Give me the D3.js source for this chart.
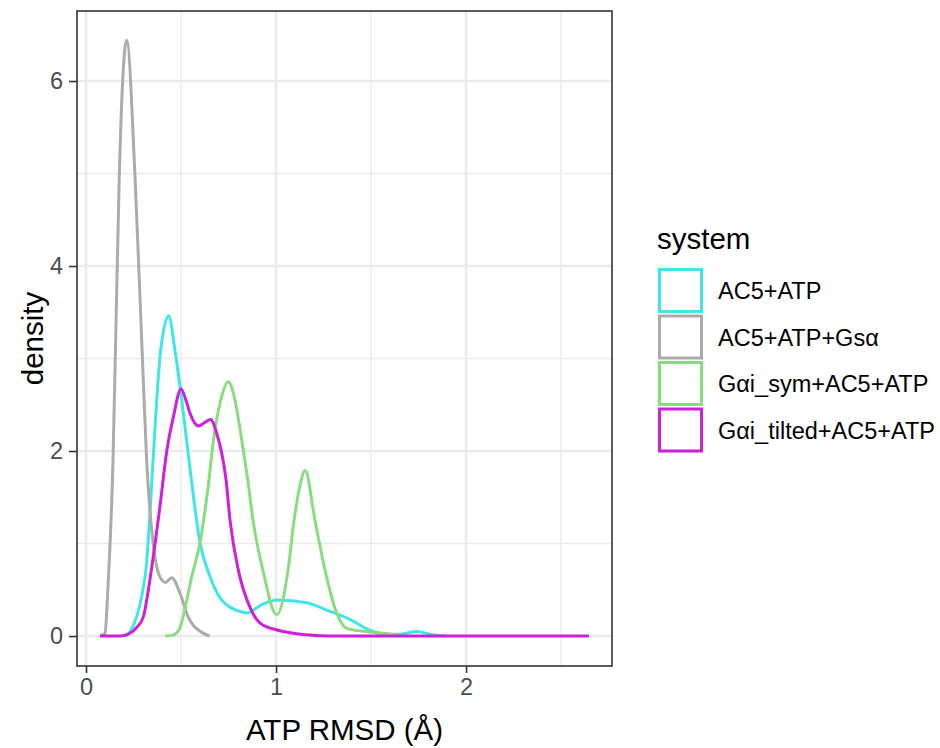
<!DOCTYPE html>
<html>
<head>
<meta charset="utf-8">
<script src="https://cdn.jsdelivr.net/npm/d3@7"></script>
<style>
body { margin: 0; background: #fff; }
text { font-family: "Liberation Sans", Arial, sans-serif; }
</style>
</head>
<body>
<div id="chart-area"></div>
<script>
const systems = ["AC5+ATP", "AC5+ATP+Gsα", "Gαi_sym+AC5+ATP", "Gαi_tilted+AC5+ATP"]
const colours = ["#3fe5ec", "#ababab", "#88dd7f", "#cf1fdc"]

// density curves (rmsd in Å, density)
const ac5Rmsd = [0.205, 0.221, 0.311, 0.353, 0.372, 0.393, 0.435, 0.468, 0.504, 0.542, 0.60, 0.653, 0.714, 0.819, 0.846, 0.925, 1.004, 1.162, 1.267, 1.398, 1.495, 1.574, 1.653, 1.741, 1.81, 1.89]
const ac5Dens = [0, 0.02, 0.64, 1.90, 2.55, 3.09, 3.46, 3.09, 2.55, 1.90, 1.01, 0.64, 0.39, 0.26, 0.25, 0.34, 0.39, 0.36, 0.28, 0.17, 0.06, 0.02, 0.02, 0.05, 0.02, 0]

const gsRmsd = [0.074, 0.10, 0.114, 0.142, 0.156, 0.175, 0.214, 0.258, 0.293, 0.319, 0.353, 0.389, 0.419, 0.451, 0.495, 0.537, 0.609, 0.65]
const gsDens = [0, 0.03, 0.46, 1.90, 3.20, 4.96, 6.44, 4.96, 3.20, 1.90, 1.01, 0.64, 0.58, 0.63, 0.46, 0.21, 0.04, 0]

const symRmsd = [0.416, 0.458, 0.49, 0.511, 0.556, 0.60, 0.642, 0.671, 0.709, 0.749, 0.784, 0.814, 0.851, 0.879, 0.932, 1.003, 1.063, 1.095, 1.124, 1.153, 1.205, 1.258, 1.319, 1.374, 1.511, 1.60, 1.653]
const symDens = [0, 0.01, 0.07, 0.21, 0.64, 1.01, 1.60, 2.12, 2.55, 2.75, 2.55, 2.19, 1.69, 1.25, 0.70, 0.23, 0.71, 1.25, 1.61, 1.79, 1.25, 0.71, 0.25, 0.08, 0.04, 0.02, 0]

const tiltRmsd = [0.074, 0.179, 0.223, 0.27, 0.302, 0.34, 0.389, 0.425, 0.46, 0.50, 0.526, 0.547, 0.591, 0.626, 0.656, 0.688, 0.714, 0.737, 0.758, 0.802, 0.863, 0.916, 1.005, 1.09, 1.18, 1.284, 2.647]
const tiltDens = [0, 0, 0.02, 0.10, 0.21, 0.66, 1.40, 2.0, 2.37, 2.67, 2.55, 2.41, 2.27, 2.31, 2.34, 2.19, 1.98, 1.69, 1.25, 0.71, 0.31, 0.14, 0.065, 0.03, 0.01, 0, 0]

const xTicks = [0, 1, 2]
const xMinor = [0.5, 1.5, 2.5]
const yTicks = [0, 2, 4, 6]
const yMinor = [1, 3, 5]

const rmsdSeries = [ac5Rmsd, gsRmsd, symRmsd, tiltRmsd]
const densSeries = [ac5Dens, gsDens, symDens, tiltDens]

var margin = {"left": 77, "top": 11}
const GRAPH_WIDTH = 535
const GRAPH_HEIGHT = 655

var svg = d3.select('#chart-area').append("svg")
    .attr("width", 940)
    .attr("height", 748)

var g = svg.append("g")
    .attr("transform", "translate(" + margin.left + "," + margin.top + ")")

var xScale = d3.scaleLinear()
    .domain([-0.0474, 2.768])
    .range([0, GRAPH_WIDTH])

var yScale = d3.scaleLinear()
    .domain([-0.324, 6.757])
    .range([GRAPH_HEIGHT, 0])

// grid lines, minor first
g.selectAll(".xminor").data(xMinor).enter().append("line")
    .attr("x1", d => xScale(d)).attr("x2", d => xScale(d))
    .attr("y1", 0).attr("y2", GRAPH_HEIGHT)
    .attr("stroke", "#ebebeb").attr("stroke-width", 1.4)
g.selectAll(".yminor").data(yMinor).enter().append("line")
    .attr("y1", d => yScale(d)).attr("y2", d => yScale(d))
    .attr("x1", 0).attr("x2", GRAPH_WIDTH)
    .attr("stroke", "#ebebeb").attr("stroke-width", 1.4)
g.selectAll(".xmajor").data(xTicks).enter().append("line")
    .attr("x1", d => xScale(d)).attr("x2", d => xScale(d))
    .attr("y1", 0).attr("y2", GRAPH_HEIGHT)
    .attr("stroke", "#ebebeb").attr("stroke-width", 2.6)
g.selectAll(".ymajor").data(yTicks).enter().append("line")
    .attr("y1", d => yScale(d)).attr("y2", d => yScale(d))
    .attr("x1", 0).attr("x2", GRAPH_WIDTH)
    .attr("stroke", "#ebebeb").attr("stroke-width", 2.6)

var line = d3.line()
    .x(d => xScale(d[0]))
    .y(d => yScale(d[1]))
    .curve(d3.curveMonotoneX)

systems.forEach(function(s, i){
    var pts = rmsdSeries[i].map((x, j) => [x, densSeries[i][j]])
    g.append("path")
        .datum(pts)
        .attr("d", line)
        .attr("fill", "none")
        .attr("stroke", colours[i])
        .attr("stroke-width", 3)
        .attr("stroke-linejoin", "round")
})

// panel border
g.append("rect")
    .attr("width", GRAPH_WIDTH)
    .attr("height", GRAPH_HEIGHT)
    .attr("fill", "none")
    .attr("stroke", "#333333")
    .attr("stroke-width", 1.6)

var xAxisGroup = g.append("g")
    .attr("transform", "translate(0," + GRAPH_HEIGHT + ")")
    .call(d3.axisBottom(xScale).tickValues(xTicks).tickSize(7).tickPadding(5).tickFormat(d3.format("d")))
var yAxisGroup = g.append("g")
    .call(d3.axisLeft(yScale).tickValues(yTicks).tickSize(8).tickPadding(6).tickFormat(d3.format("d")))

;[xAxisGroup, yAxisGroup].forEach(function(ax){
    ax.select(".domain").remove()
    ax.selectAll("line").attr("stroke", "#333333").attr("stroke-width", 1.6)
    ax.selectAll("text")
        .attr("fill", "#4d4d4d")
        .attr("font-size", "23.5px")
        .attr("font-family", "Liberation Sans, Arial, sans-serif")
})

// axis titles
svg.append("text")
    .attr("x", margin.left + GRAPH_WIDTH / 2)
    .attr("y", 740)
    .attr("font-size", "29.5px")
    .attr("text-anchor", "middle")
    .text("ATP RMSD (Å)")

svg.append("text")
    .attr("transform", "translate(43," + (margin.top + GRAPH_HEIGHT / 2) + ") rotate(-90)")
    .attr("font-size", "29.5px")
    .attr("text-anchor", "middle")
    .text("density")

// legend
var legend = svg.append("g")
    .attr("transform", "translate(657,249)")
legend.append("text")
    .attr("x", 0)
    .attr("y", 0)
    .attr("font-size", "29.5px")
    .text("system")
systems.forEach(function(s, i){
    var row = legend.append("g")
        .attr("transform", "translate(0," + (19 + i * 46.5) + ")")
    row.append("rect")
        .attr("x", 2.5)
        .attr("y", 1.5)
        .attr("width", 42)
        .attr("height", 42)
        .attr("fill", "none")
        .attr("stroke", colours[i])
        .attr("stroke-width", 3)
    row.append("text")
        .attr("x", 61)
        .attr("y", 23)
        .attr("dy", "0.35em")
        .attr("font-size", "23.5px")
        .text(s)
})
</script>
</body>
</html>
